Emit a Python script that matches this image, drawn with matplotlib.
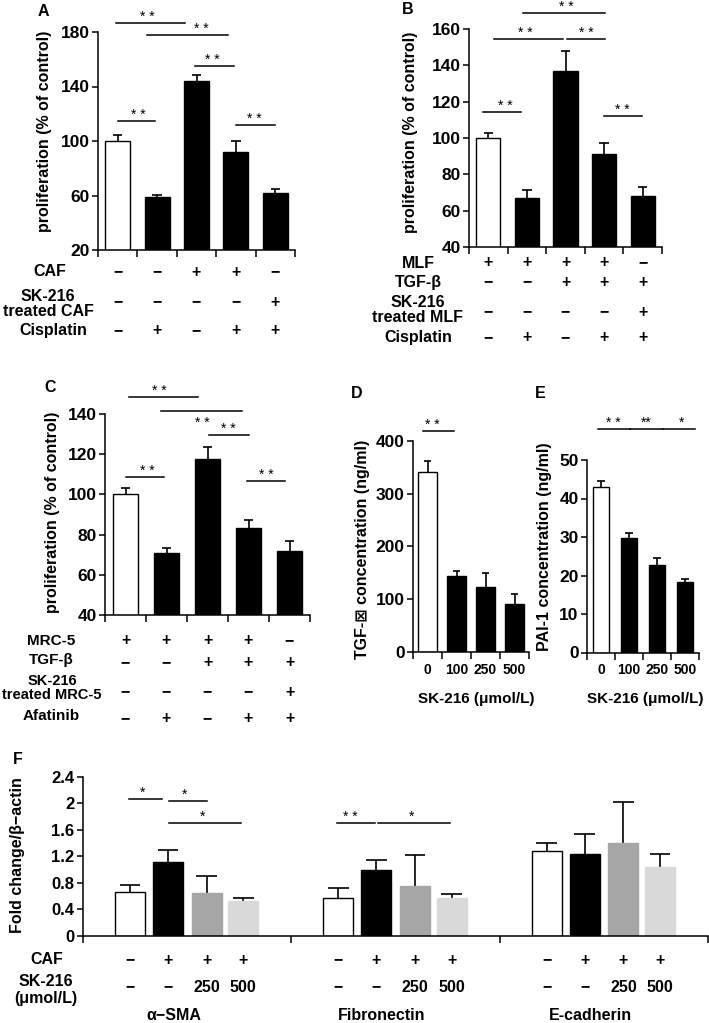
import numpy as np
import matplotlib
matplotlib.use('Agg')
import matplotlib.pyplot as plt
import matplotlib.transforms as mtransforms
from matplotlib import font_manager

plt.rcParams['font.family'] = ['Liberation Sans', 'DejaVu Sans']
plt.rcParams['font.weight'] = 'bold'
plt.rcParams['axes.linewidth'] = 1.1

# narrow face for the crowded dose labels, if the system has it
try:
    font_manager.findfont(font_manager.FontProperties(family='Liberation Sans Narrow'),
                          fallback_to_default=False)
    NARROW, NARROW_FS = ['Liberation Sans Narrow', 'Liberation Sans'], 12
except Exception:
    NARROW, NARROW_FS = ['Liberation Sans', 'DejaVu Sans'], 10

# ---- data ----
# A: CAF co-culture, cisplatin
a_vals = [100, 59, 144, 92, 62]
a_err = [4.4, 1.3, 4.6, 7.8, 2.5]
a_rows = ['CAF', 'SK-216\ntreated CAF', 'Cisplatin']
a_signs = [['−', '−', '+', '+', '−'],
           ['−', '−', '−', '−', '+'],
           ['−', '+', '−', '+', '+']]

# B: MLF
b_vals = [100, 67, 137, 91, 68]
b_err = [2.7, 4.6, 10.8, 6.4, 5.3]
b_rows = ['MLF', 'TGF-β', 'SK-216\ntreated MLF', 'Cisplatin']
b_signs = [['+', '+', '+', '+', '−'],
           ['−', '−', '+', '+', '+'],
           ['−', '−', '−', '−', '+'],
           ['−', '+', '−', '+', '+']]

# C: MRC-5, afatinib
c_vals = [100, 71, 117.4, 83.5, 72]
c_err = [3, 2.2, 6, 3.6, 5]
c_rows = ['MRC-5', 'TGF-β', 'SK-216\ntreated MRC-5', 'Afatinib']
c_signs = [['+', '+', '+', '+', '−'],
           ['−', '−', '+', '+', '+'],
           ['−', '−', '−', '−', '+'],
           ['−', '+', '−', '+', '+']]

# D / E: secreted TGF-beta and PAI-1
doses = ['0', '100', '250', '500']
d_vals = [341, 143, 123, 90]
d_err = [21, 10, 27, 20]
e_vals = [43, 29.7, 22.7, 18.4]
e_err = [1.5, 1.4, 1.9, 0.6]

# F: western blot quantification
f_groups = ['α−SMA', 'Fibronectin', 'E-cadherin']
f_vals = [[0.66, 0.58, 1.28],   # control
          [1.11, 1.00, 1.23],   # CAF
          [0.65, 0.76, 1.40],   # CAF + SK-216 250
          [0.53, 0.57, 1.04]]   # CAF + SK-216 500
f_err = [[0.11, 0.15, 0.12],
         [0.18, 0.14, 0.30],
         [0.25, 0.46, 0.62],
         [0.035, 0.06, 0.19]]
f_caf = ['−', '+', '+', '+']
f_sk = ['−', '−', '250', '500']

# significance bars: (x0, x1, y, text, text_x)
a_sig = [(-0.05, 1.7, 186.6, '* *', 0.76), (0.75, 2.8, 177.8, '* *', 2.13),
         (1.95, 2.95, 155, '* *', 2.41), (0.0, 0.95, 114.7, '* *', 0.52),
         (3.0, 3.99, 111.7, '* *', 3.48)]
b_sig = [(0.89, 3.02, 168.8, '* *', 2.03), (0.14, 1.94, 154.5, '* *', 0.97),
         (2.04, 3.02, 154.5, '* *', 2.55), (-0.14, 0.86, 114.3, '* *', 0.45),
         (3.0, 3.99, 112, '* *', 3.46)]
c_sig = [(0.085, 1.76, 148.3, '* *', 0.82), (0.86, 2.85, 141.6, '* *', 1.87),
         (2.04, 3.0, 129.4, '* *', 2.51), (0.02, 0.95, 108.5, '* *', 0.52),
         (2.96, 3.89, 106.8, '* *', 3.43)]
d_sig = [(-0.17, 0.92, 419, '* *', 0.17)]
e_sig = [(-0.09, 1.02, 58, '* *', 0.45), (1.02, 2.2, 58, '**', 1.62),
         (2.2, 3.37, 58, '*', 2.87)]
f_sig = [(-0.28, -0.12, 2.06, '*', -0.215), (-0.088, 0.096, 2.04, '*', -0.01),
         (-0.088, 0.258, 1.70, '*', 0.077), (0.722, 0.902, 1.70, '* *', 0.785),
         (0.917, 1.262, 1.70, '*', 1.077)]

W, H = 709, 1023
fig = plt.figure(figsize=(W / 100, H / 100), dpi=100)
FS = 11.5
TFS = 12.5


def axes_px(x0, y0, x1, y1):
    return fig.add_axes([x0 / W, 1 - y1 / H, (x1 - x0) / W, (y1 - y0) / H])


def ftext(x, y, s, **kw):
    kw.setdefault('fontsize', FS)
    kw.setdefault('fontweight', 'bold')
    fig.text(x / W, 1 - y / H, s, **kw)


def style(ax, n, ylim, yticks, labelsize=TFS):
    ax.set_xlim(-0.5, n - 0.5)
    ax.set_ylim(*ylim)
    for s in ['top', 'right']:
        ax.spines[s].set_visible(False)
    ax.set_xticks(np.arange(n + 1) - 0.5)
    ax.set_xticklabels([])
    ax.set_yticks(yticks)
    ax.tick_params(axis='x', direction='out', length=5, width=1.1)
    ax.tick_params(axis='y', direction='out', length=4, width=1.1, labelsize=labelsize, pad=2)
    for t in ax.get_yticklabels():
        t.set_fontweight('bold')


def draw_err(ax, x, vals, errs, cap):
    x = np.asarray(x, float)
    vals = np.asarray(vals, float)
    top = vals + np.asarray(errs, float)
    ax.vlines(x, vals, top, color='black', lw=1.2, zorder=1)
    ax.hlines(top, x - cap, x + cap, color='black', lw=1.2, zorder=1)


def bars(ax, vals, errs, width, cap):
    x = np.arange(len(vals))
    colors = ['white'] + ['black'] * (len(vals) - 1)
    draw_err(ax, x, vals, errs, cap)
    ax.bar(x, vals, width, color=colors, edgecolor='black', linewidth=1, zorder=2)


def sig_one(ax, x0, x1, y, txt, tx, dy=1.5, fs=10):
    ax.plot([x0, x1], [y, y], color='black', lw=1.1, clip_on=False)
    ax.annotate(txt, (tx, y), xytext=(0, dy), textcoords='offset points',
                ha='center', va='baseline', fontsize=fs, fontweight='normal',
                annotation_clip=False)


def sig(ax, items):
    for it in items:
        sig_one(ax, *it)


def sign_rows(ax, signs, ys, **kw):
    tr = mtransforms.blended_transform_factory(ax.transData, fig.transFigure)
    kw.setdefault('fontsize', FS)
    for row, y in zip(signs, ys):
        for i, s in enumerate(row):
            ax.text(i, 1 - y / H, s, transform=tr, ha='center', va='center',
                    fontweight='bold', **kw)


# ---- A ----
axA = axes_px(98, 32, 295, 250)
bars(axA, a_vals, a_err, 0.63, 0.12)
style(axA, 5, (20, 180), [20, 60, 100, 140, 180])
sig(axA, a_sig)
ftext(45, 131, 'proliferation (% of control)', rotation=90, ha='center', va='center')
ftext(50, 272, a_rows[0], ha='center', va='center')
ftext(48, 304, a_rows[1], ha='center', va='center', multialignment='center', linespacing=1.05)
ftext(53, 331, a_rows[2], ha='center', va='center')
sign_rows(axA, a_signs, [272, 302, 331])
ftext(43, 12, 'A', ha='center', va='center')

# ---- B ----
axB = axes_px(469, 29, 662, 247)
bars(axB, b_vals, b_err, 0.63, 0.12)
style(axB, 5, (40, 160), [40, 60, 80, 100, 120, 140, 160])
sig(axB, b_sig)
ftext(410, 132, 'proliferation (% of control)', rotation=90, ha='center', va='center')
ftext(418, 263, b_rows[0], ha='center', va='center')
ftext(418, 282, b_rows[1], ha='center', va='center')
ftext(418, 310, b_rows[2], ha='center', va='center', multialignment='center', linespacing=1.05)
ftext(418, 338, b_rows[3], ha='center', va='center')
sign_rows(axB, b_signs, [263, 282, 312, 338])
ftext(408, 10, 'B', ha='center', va='center')

# ---- C ----
axC = axes_px(105, 414, 310, 615)
bars(axC, c_vals, c_err, 0.61, 0.12)
style(axC, 5, (40, 140), [40, 60, 80, 100, 120, 140])
sig(axC, c_sig[:1] + c_sig[2:])
sig_one(axC, *c_sig[1], dy=-12)   # this label sits under its line
ftext(53, 512, 'proliferation (% of control)', rotation=90, ha='center', va='center')
ftext(51, 641, c_rows[0], ha='center', va='center', fontsize=11)
ftext(51, 660, c_rows[1], ha='center', va='center', fontsize=11)
ftext(52, 688, c_rows[2], ha='center', va='center', multialignment='center',
      linespacing=1.05, fontsize=10.5)
ftext(51, 716, c_rows[3], ha='center', va='center', fontsize=11)
sign_rows(axC, c_signs, [641, 663, 692, 719])
ftext(50, 388, 'C', ha='center', va='center')

# ---- D ----
axD = axes_px(413, 441, 529, 651.5)
bars(axD, d_vals, d_err, 0.64, 0.13)
style(axD, 4, (0, 400), [0, 100, 200, 300, 400])
sig(axD, d_sig)
sign_rows(axD, [doses], [670], family=NARROW, fontsize=NARROW_FS)
ftext(476, 699, 'SK-216 (μmol/L)', ha='center', va='center', fontsize=11)
ftext(362, 549, 'TGF-⊠ concentration (ng/ml)', rotation=90, ha='center', va='center')
ftext(357, 394, 'D', ha='center', va='center')

# ---- E ----
axE = axes_px(587, 460, 699, 652.5)
bars(axE, e_vals, e_err, 0.57, 0.13)
style(axE, 4, (0, 50), [0, 10, 20, 30, 40, 50])
sig(axE, e_sig)
sign_rows(axE, [doses], [670], family=NARROW, fontsize=NARROW_FS)
ftext(645, 699, 'SK-216 (μmol/L)', ha='center', va='center', fontsize=11)
ftext(545, 547, 'PAI-1 concentration (ng/ml)', rotation=90, ha='center', va='center')
ftext(540, 394, 'E', ha='center', va='center')

# ---- F ----
axF = axes_px(82.7, 776.7, 708, 936)
f_colors = ['white', 'black', '#a6a6a6', '#d9d9d9']
f_edges = ['black', 'black', '#a6a6a6', '#d9d9d9']
offsets = [-0.273, -0.091, 0.094, 0.27]
gx = np.arange(len(f_groups))
for k in range(4):
    draw_err(axF, gx + offsets[k], f_vals[k], f_err[k], 0.05)
    axF.bar(gx + offsets[k], f_vals[k], 0.144, color=f_colors[k],
            edgecolor=f_edges[k], linewidth=1, zorder=2)
style(axF, 3, (0, 2.4), [0, 0.4, 0.8, 1.2, 1.6, 2.0, 2.4], labelsize=12)
axF.set_yticklabels(['0', '0.4', '0.8', '1.2', '1.6', '2', '2.4'], fontweight='bold')
sig(axF, f_sig)
trF = mtransforms.blended_transform_factory(axF.transData, fig.transFigure)
for g in gx:
    for k in range(4):
        axF.text(g + offsets[k], 1 - 960 / H, f_caf[k], transform=trF, ha='center',
                 va='center', fontsize=FS, fontweight='bold')
        axF.text(g + offsets[k], 1 - 987 / H, f_sk[k], transform=trF, ha='center',
                 va='center', fontsize=FS, fontweight='bold')
for g, name in zip(gx, f_groups):
    axF.text(g - 0.065, 1 - 1016 / H, name, transform=trF, ha='center', va='center',
             fontsize=FS, fontweight='bold')
ftext(18, 855, 'Fold change/β−actin', rotation=90, ha='center', va='center')
ftext(47, 960, 'CAF', ha='center', va='center')
ftext(46, 990, 'SK-216\n(μmol/L)', ha='center', va='center', multialignment='center',
      linespacing=1.1)
ftext(18, 759, 'F', ha='center', va='center')

fig.savefig('out.png', dpi=100)
